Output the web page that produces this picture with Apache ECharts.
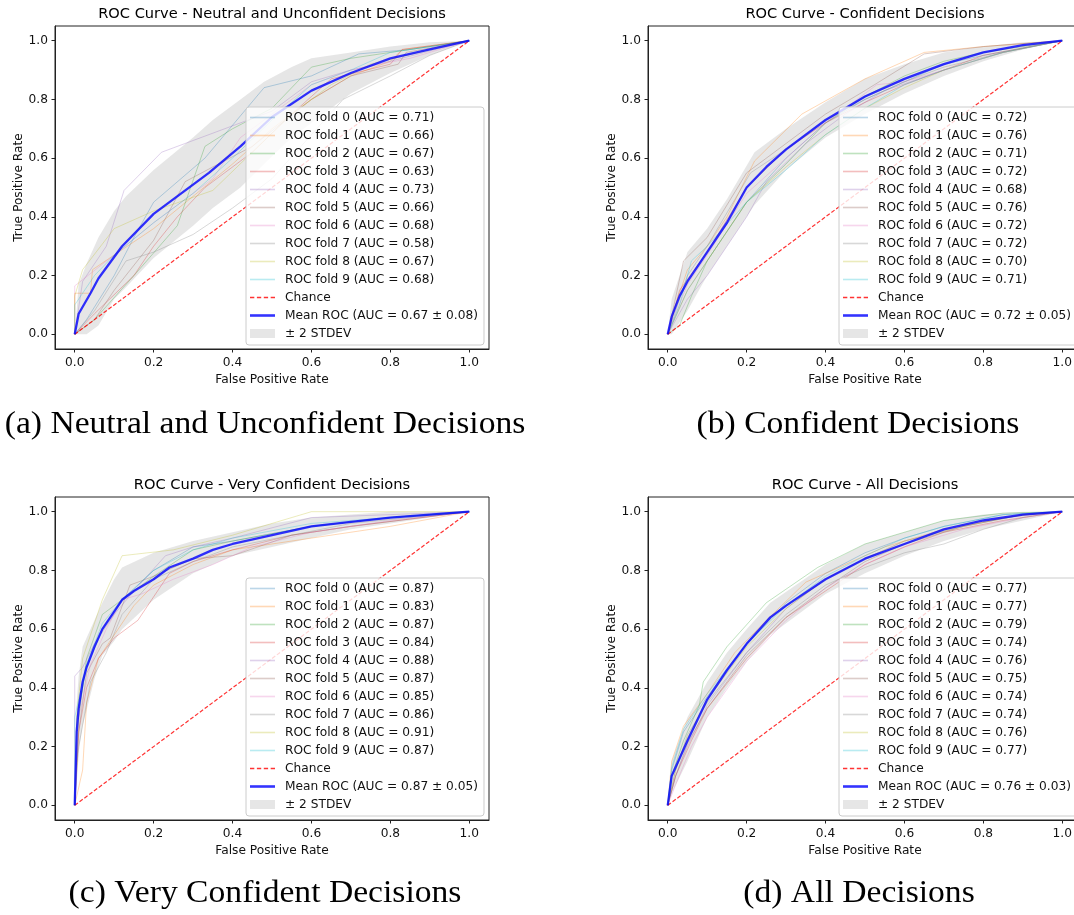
<!DOCTYPE html>
<html>
<head>
<meta charset="utf-8">
<script src="https://cdn.jsdelivr.net/npm/echarts@6/dist/echarts.min.js"></script>
<style>
html, body { margin: 0; padding: 0; background: #fff; }
#chart { width: 1074px; height: 915px; }
</style>
</head>
<body>
<div id="chart"></div>
<script>
// 各折颜色 (matplotlib tab10, alpha 0.3)
var foldColors = [
    'rgba(31,119,180,0.3)', 'rgba(255,127,14,0.3)', 'rgba(44,160,44,0.3)', 'rgba(214,39,40,0.3)',
    'rgba(148,103,189,0.3)', 'rgba(140,86,75,0.3)', 'rgba(227,119,194,0.3)', 'rgba(127,127,127,0.3)',
    'rgba(188,189,34,0.3)', 'rgba(23,190,207,0.3)'
];
var tickValues = [0, 0.2, 0.4, 0.6, 0.8, 1.0];
var chanceLine = [[0, 0], [1, 1]];

// (a) Neutral and Unconfident
var neutralTitle = 'ROC Curve - Neutral and Unconfident Decisions';
var neutralCaption = '(a) Neutral and Unconfident Decisions';
var neutralFoldAuc = ['0.71', '0.66', '0.67', '0.63', '0.73', '0.66', '0.68', '0.58', '0.67', '0.68'];
var neutralMeanAuc = '0.67 ± 0.08';
var neutralFolds = [
    [[0,0],[0.03,0.05],[0.1,0.2],[0.15,0.33],[0.2,0.45],[0.33,0.6],[0.48,0.84],[0.6,0.88],[0.72,0.955],[0.85,0.97],[1,1]],
    [[0,0],[0,0.14],[0.04,0.14],[0.045,0.22],[0.1,0.27],[0.2,0.36],[0.3,0.47],[0.4,0.58],[0.5,0.7],[0.6,0.8],[0.7,0.88],[0.8,0.93],[0.83,0.97],[1,1]],
    [[0,0],[0.05,0.05],[0.15,0.2],[0.26,0.37],[0.33,0.64],[0.4,0.7],[0.5,0.77],[0.6,0.91],[0.7,0.94],[0.8,0.96],[1,1]],
    [[0,0],[0.05,0.07],[0.15,0.2],[0.2,0.3],[0.26,0.4],[0.33,0.5],[0.45,0.62],[0.55,0.75],[0.65,0.87],[0.8,0.92],[0.83,0.97],[1,1]],
    [[0,0],[0.02,0.18],[0.08,0.3],[0.125,0.49],[0.22,0.62],[0.38,0.7],[0.5,0.76],[0.6,0.86],[0.7,0.9],[0.8,0.93],[1,1]],
    [[0,0],[0.05,0.05],[0.1,0.15],[0.2,0.32],[0.28,0.52],[0.35,0.57],[0.45,0.64],[0.6,0.8],[0.7,0.88],[0.82,0.92],[0.84,0.96],[1,1]],
    [[0,0],[0,0.165],[0.1,0.27],[0.2,0.38],[0.35,0.53],[0.42,0.67],[0.5,0.75],[0.6,0.85],[0.7,0.9],[0.85,0.94],[1,1]],
    [[0,0],[0.05,0.08],[0.13,0.25],[0.2,0.28],[0.3,0.34],[0.4,0.43],[0.5,0.53],[0.6,0.68],[0.68,0.8],[0.8,0.88],[0.9,0.95],[1,1]],
    [[0,0],[0,0.13],[0.02,0.22],[0.1,0.36],[0.2,0.42],[0.35,0.49],[0.45,0.62],[0.55,0.75],[0.65,0.85],[0.75,0.92],[0.9,0.97],[1,1]],
    [[0,0],[0,0.1],[0.05,0.2],[0.1,0.27],[0.2,0.38],[0.3,0.48],[0.4,0.6],[0.5,0.73],[0.6,0.85],[0.7,0.9],[0.8,0.96],[1,1]]
];
var neutralMean = [[0,0],[0.01,0.07],[0.04,0.14],[0.06,0.19],[0.12,0.3],[0.2,0.41],[0.27,0.48],[0.34,0.55],[0.42,0.64],[0.5,0.74],[0.6,0.83],[0.7,0.89],[0.8,0.94],[0.9,0.97],[1,1]];
var neutralBandX  = [0, 0.01, 0.03, 0.06, 0.1, 0.13, 0.2, 0.3, 0.35, 0.42, 0.48, 0.55, 0.6, 0.7, 0.8, 0.9, 1];
var neutralBandHi = [0, 0.17, 0.24, 0.33, 0.42, 0.47, 0.56, 0.67, 0.73, 0.8, 0.86, 0.91, 0.94, 0.96, 0.98, 0.995, 1];
var neutralBandLo = [0, 0, 0, 0.03, 0.12, 0.16, 0.26, 0.37, 0.43, 0.5, 0.58, 0.67, 0.72, 0.82, 0.89, 0.95, 1];

// (b) Confident
var confidentTitle = 'ROC Curve - Confident Decisions';
var confidentCaption = '(b) Confident Decisions';
var confidentFoldAuc = ['0.72', '0.76', '0.71', '0.72', '0.68', '0.76', '0.72', '0.72', '0.70', '0.71'];
var confidentMeanAuc = '0.72 ± 0.05';
var confidentFolds = [
    [[0,0],[0.05,0.15],[0.1,0.25],[0.2,0.45],[0.3,0.6],[0.4,0.72],[0.5,0.8],[0.6,0.86],[0.7,0.92],[0.8,0.95],[1,1]],
    [[0,0],[0.02,0.1],[0.05,0.22],[0.1,0.3],[0.15,0.4],[0.22,0.59],[0.34,0.75],[0.5,0.87],[0.65,0.96],[0.8,0.98],[1,1]],
    [[0,0],[0.03,0.03],[0.06,0.13],[0.1,0.25],[0.2,0.45],[0.3,0.58],[0.4,0.72],[0.5,0.81],[0.6,0.88],[0.7,0.93],[0.8,0.96],[1,1]],
    [[0,0],[0.03,0.15],[0.1,0.28],[0.2,0.5],[0.3,0.63],[0.4,0.72],[0.5,0.79],[0.6,0.85],[0.7,0.9],[0.8,0.95],[1,1]],
    [[0,0],[0.05,0.12],[0.1,0.2],[0.15,0.3],[0.2,0.4],[0.25,0.52],[0.35,0.65],[0.45,0.75],[0.55,0.83],[0.7,0.9],[0.85,0.96],[1,1]],
    [[0,0],[0.04,0.25],[0.1,0.33],[0.2,0.55],[0.3,0.65],[0.4,0.75],[0.5,0.83],[0.65,0.955],[0.8,0.98],[1,1]],
    [[0,0],[0.05,0.17],[0.1,0.27],[0.2,0.48],[0.3,0.6],[0.4,0.72],[0.53,0.85],[0.6,0.86],[0.7,0.9],[0.85,0.96],[1,1]],
    [[0,0],[0.05,0.2],[0.1,0.3],[0.21,0.55],[0.3,0.63],[0.4,0.73],[0.5,0.8],[0.6,0.86],[0.7,0.91],[0.85,0.96],[1,1]],
    [[0,0],[0.05,0.15],[0.1,0.25],[0.2,0.45],[0.3,0.57],[0.4,0.68],[0.5,0.77],[0.6,0.84],[0.7,0.9],[0.85,0.96],[1,1]],
    [[0,0],[0.03,0.1],[0.06,0.25],[0.1,0.3],[0.2,0.45],[0.3,0.56],[0.4,0.68],[0.5,0.77],[0.6,0.85],[0.7,0.9],[0.85,0.96],[1,1]]
];
var confidentMean = [[0,0],[0.01,0.06],[0.03,0.13],[0.05,0.18],[0.08,0.24],[0.1,0.28],[0.15,0.38],[0.2,0.5],[0.25,0.57],[0.3,0.63],[0.4,0.73],[0.5,0.81],[0.6,0.87],[0.7,0.92],[0.8,0.96],[0.9,0.985],[1,1]];
var confidentBandX  = [0, 0.01, 0.05, 0.1, 0.15, 0.22, 0.3, 0.4, 0.5, 0.6, 0.7, 0.8, 0.9, 1];
var confidentBandHi = [0, 0.12, 0.28, 0.36, 0.46, 0.62, 0.7, 0.79, 0.87, 0.92, 0.96, 0.98, 0.995, 1];
var confidentBandLo = [0, 0, 0.08, 0.2, 0.3, 0.44, 0.56, 0.67, 0.75, 0.82, 0.88, 0.93, 0.97, 1];

// (c) Very Confident
var veryTitle = 'ROC Curve - Very Confident Decisions';
var veryCaption = '(c) Very Confident Decisions';
var veryFoldAuc = ['0.87', '0.83', '0.87', '0.84', '0.88', '0.87', '0.85', '0.86', '0.91', '0.87'];
var veryMeanAuc = '0.87 ± 0.05';
var veryFolds = [
    [[0,0],[0.005,0.3],[0.03,0.47],[0.07,0.6],[0.12,0.7],[0.2,0.8],[0.3,0.88],[0.4,0.9],[0.6,0.95],[0.8,0.98],[1,1]],
    [[0,0],[0.02,0.12],[0.03,0.35],[0.06,0.5],[0.1,0.58],[0.15,0.68],[0.2,0.75],[0.3,0.82],[0.4,0.87],[0.6,0.91],[0.8,0.95],[1,1]],
    [[0,0],[0.01,0.3],[0.03,0.5],[0.07,0.65],[0.12,0.7],[0.2,0.78],[0.3,0.87],[0.4,0.9],[0.6,0.95],[0.8,0.98],[1,1]],
    [[0,0],[0.01,0.25],[0.03,0.4],[0.06,0.5],[0.1,0.57],[0.16,0.63],[0.24,0.79],[0.3,0.83],[0.4,0.87],[0.55,0.92],[0.7,0.95],[1,1]],
    [[0,0],[0,0.44],[0.02,0.47],[0.05,0.55],[0.1,0.65],[0.15,0.73],[0.23,0.85],[0.3,0.88],[0.4,0.91],[0.6,0.98],[0.8,0.99],[1,1]],
    [[0,0],[0.01,0.25],[0.03,0.45],[0.07,0.55],[0.09,0.57],[0.14,0.75],[0.2,0.78],[0.3,0.84],[0.4,0.85],[0.55,0.92],[0.7,0.95],[1,1]],
    [[0,0],[0.01,0.3],[0.04,0.48],[0.08,0.6],[0.12,0.7],[0.17,0.72],[0.25,0.77],[0.35,0.82],[0.45,0.88],[0.6,0.93],[0.8,0.97],[1,1]],
    [[0,0],[0.01,0.2],[0.04,0.42],[0.08,0.52],[0.12,0.65],[0.2,0.77],[0.3,0.83],[0.4,0.88],[0.55,0.92],[0.7,0.96],[1,1]],
    [[0,0],[0.005,0.3],[0.02,0.5],[0.07,0.7],[0.12,0.85],[0.25,0.87],[0.4,0.92],[0.5,0.96],[0.6,1],[1,1]],
    [[0,0],[0,0.3],[0.03,0.48],[0.07,0.62],[0.12,0.7],[0.2,0.8],[0.3,0.87],[0.4,0.91],[0.6,0.96],[0.8,0.98],[1,1]]
];
var veryMean = [[0,0],[0.005,0.25],[0.01,0.33],[0.02,0.42],[0.03,0.47],[0.05,0.54],[0.07,0.6],[0.1,0.66],[0.12,0.7],[0.15,0.73],[0.2,0.77],[0.24,0.81],[0.3,0.84],[0.35,0.87],[0.4,0.89],[0.5,0.92],[0.6,0.95],[0.7,0.965],[0.8,0.98],[0.9,0.99],[1,1]];
var veryBandX  = [0, 0.005, 0.01, 0.02, 0.05, 0.07, 0.1, 0.12, 0.2, 0.3, 0.4, 0.5, 0.6, 0.7, 0.8, 0.9, 1];
var veryBandHi = [0, 0.35, 0.44, 0.54, 0.63, 0.69, 0.77, 0.81, 0.86, 0.9, 0.93, 0.96, 0.98, 0.99, 1, 1, 1];
var veryBandLo = [0, 0.12, 0.18, 0.27, 0.43, 0.51, 0.56, 0.6, 0.7, 0.79, 0.85, 0.88, 0.91, 0.94, 0.96, 0.98, 1];

// (d) All
var allTitle = 'ROC Curve - All Decisions';
var allCaption = '(d) All Decisions';
var allFoldAuc = ['0.77', '0.77', '0.79', '0.74', '0.76', '0.75', '0.74', '0.74', '0.76', '0.77'];
var allMeanAuc = '0.76 ± 0.03';
var allFolds = [
    [[0,0],[0.01,0.12],[0.04,0.25],[0.1,0.37],[0.2,0.55],[0.3,0.69],[0.4,0.79],[0.5,0.86],[0.6,0.91],[0.7,0.95],[0.85,0.99],[1,1]],
    [[0,0],[0.01,0.15],[0.04,0.27],[0.1,0.38],[0.17,0.52],[0.25,0.63],[0.35,0.76],[0.45,0.82],[0.55,0.88],[0.7,0.94],[0.85,0.98],[1,1]],
    [[0,0],[0.01,0.1],[0.04,0.22],[0.08,0.34],[0.09,0.42],[0.15,0.54],[0.25,0.69],[0.38,0.81],[0.5,0.89],[0.7,0.97],[0.85,0.995],[1,1]],
    [[0,0],[0.02,0.1],[0.06,0.22],[0.1,0.33],[0.2,0.5],[0.3,0.64],[0.4,0.73],[0.5,0.82],[0.6,0.88],[0.7,0.93],[0.85,0.97],[1,1]],
    [[0,0],[0.02,0.1],[0.05,0.2],[0.1,0.34],[0.2,0.52],[0.3,0.67],[0.4,0.77],[0.5,0.84],[0.6,0.9],[0.75,0.95],[0.9,0.99],[1,1]],
    [[0,0],[0.02,0.1],[0.05,0.21],[0.1,0.33],[0.2,0.51],[0.3,0.64],[0.4,0.74],[0.5,0.83],[0.6,0.89],[0.75,0.95],[0.9,0.99],[1,1]],
    [[0,0],[0.02,0.07],[0.06,0.2],[0.1,0.3],[0.2,0.49],[0.3,0.63],[0.4,0.74],[0.5,0.82],[0.6,0.88],[0.75,0.94],[0.9,0.98],[1,1]],
    [[0,0],[0.02,0.12],[0.05,0.24],[0.1,0.35],[0.2,0.52],[0.3,0.65],[0.4,0.75],[0.5,0.81],[0.6,0.86],[0.7,0.89],[0.8,0.94],[0.9,0.98],[1,1]],
    [[0,0],[0.02,0.12],[0.05,0.23],[0.1,0.36],[0.2,0.54],[0.3,0.67],[0.4,0.77],[0.5,0.84],[0.6,0.9],[0.75,0.95],[0.9,0.99],[1,1]],
    [[0,0],[0.01,0.13],[0.04,0.26],[0.1,0.38],[0.2,0.55],[0.3,0.68],[0.4,0.78],[0.5,0.85],[0.6,0.91],[0.7,0.95],[0.85,0.99],[1,1]]
];
var allMean = [[0,0],[0.01,0.1],[0.05,0.22],[0.1,0.36],[0.15,0.46],[0.2,0.55],[0.26,0.64],[0.3,0.68],[0.4,0.77],[0.5,0.84],[0.6,0.89],[0.7,0.94],[0.8,0.97],[0.9,0.99],[1,1]];
var allBandX  = [0, 0.01, 0.05, 0.1, 0.15, 0.2, 0.26, 0.4, 0.5, 0.6, 0.7, 0.8, 0.9, 1];
var allBandHi = [0, 0.15, 0.3, 0.42, 0.52, 0.6, 0.69, 0.82, 0.89, 0.93, 0.97, 0.99, 1, 1];
var allBandLo = [0, 0.04, 0.15, 0.3, 0.4, 0.49, 0.58, 0.72, 0.79, 0.85, 0.9, 0.94, 0.97, 1];

// 子图布局 (像素)
var panels = [
    { left: 55,  top: 26,  title: neutralTitle,   caption: neutralCaption,   captionX: 265, captionY: 425, foldAuc: neutralFoldAuc,   meanAuc: neutralMeanAuc,   folds: neutralFolds,   mean: neutralMean,   bandX: neutralBandX,   bandLo: neutralBandLo,   bandHi: neutralBandHi },
    { left: 648, top: 26,  title: confidentTitle, caption: confidentCaption, captionX: 858, captionY: 425, foldAuc: confidentFoldAuc, meanAuc: confidentMeanAuc, folds: confidentFolds, mean: confidentMean, bandX: confidentBandX, bandLo: confidentBandLo, bandHi: confidentBandHi },
    { left: 55,  top: 497, title: veryTitle,      caption: veryCaption,      captionX: 265, captionY: 894, foldAuc: veryFoldAuc,      meanAuc: veryMeanAuc,      folds: veryFolds,      mean: veryMean,      bandX: veryBandX,      bandLo: veryBandLo,      bandHi: veryBandHi },
    { left: 648, top: 497, title: allTitle,       caption: allCaption,       captionX: 859, captionY: 894, foldAuc: allFoldAuc,       meanAuc: allMeanAuc,       folds: allFolds,       mean: allMean,       bandX: allBandX,       bandLo: allBandLo,       bandHi: allBandHi }
];
var gridW = 434, gridH = 323;
var sansFont = 'DejaVu Sans';
var axisColor = '#222';
var bandColor = 'rgba(128,128,128,0.2)';

// 图例图标 (不带圆点)
var foldIcon = 'path://M0,0h25v1.6h-25z';
var meanIcon = 'path://M0,0h25v2.6h-25z';
var chanceIcon = 'path://M0,0h4v1.3h-4z M6.4,0h4v1.3h-4z M12.8,0h4v1.3h-4z M19.2,0h4v1.3h-4z';
var bandIcon = 'path://M0,0h25v9h-25z';

var grids = [], xAxes = [], yAxes = [], series = [], legends = [], graphics = [];

function makeAxis(idx, name, isX) {
    var axis = {
        gridIndex: idx,
        type: 'value',
        min: -0.05,
        max: 1.05,
        name: name,
        nameLocation: 'middle',
        nameGap: isX ? 25 : 30,
        nameMoveOverlap: false,
        nameTextStyle: { fontFamily: sansFont, fontSize: 12.2, color: '#111' },
        splitLine: { show: false },
        axisLine: { show: true, onZero: false, lineStyle: { color: axisColor, width: 1 } },
        axisTick: { show: true, inside: false, length: 3.5, customValues: tickValues, lineStyle: { color: axisColor } },
        axisLabel: {
            customValues: tickValues,
            margin: isX ? 8 : 7,
            fontFamily: sansFont,
            fontSize: 12.2,
            color: '#111',
            formatter: function (v) { return v.toFixed(1); }
        }
    };
    return axis;
}

panels.forEach(function (p, idx) {
    grids.push({
        left: p.left, top: p.top, width: gridW, height: gridH,
        show: true, borderColor: axisColor, borderWidth: 1, backgroundColor: 'transparent',
        containLabel: false, outerBoundsMode: 'none'
    });
    xAxes.push(makeAxis(idx, 'False Positive Rate', true));
    yAxes.push(makeAxis(idx, 'True Positive Rate', false));

    var legendData = [];
    p.folds.forEach(function (pts, k) {
        var name = 'ROC fold ' + k + ' (AUC = ' + p.foldAuc[k] + ')';
        legendData.push({ name: name, icon: foldIcon });
        series.push({
            type: 'line', name: name, xAxisIndex: idx, yAxisIndex: idx,
            data: pts, symbol: 'none', silent: true, animation: false,
            lineStyle: { color: foldColors[k], width: 1 },
            itemStyle: { color: foldColors[k] }
        });
    });

    legendData.push({ name: 'Chance', icon: chanceIcon });
    series.push({
        type: 'line', name: 'Chance', xAxisIndex: idx, yAxisIndex: idx,
        data: chanceLine, symbol: 'none', silent: true, animation: false,
        lineStyle: { color: 'rgba(255,0,0,0.8)', width: 1.2, type: [4, 2] },
        itemStyle: { color: 'rgba(255,0,0,0.8)' }
    });

    var meanName = 'Mean ROC (AUC = ' + p.meanAuc + ')';
    legendData.push({ name: meanName, icon: meanIcon });
    series.push({
        type: 'line', name: meanName, xAxisIndex: idx, yAxisIndex: idx,
        data: p.mean, symbol: 'none', silent: true, animation: false,
        lineStyle: { color: 'rgba(0,0,255,0.8)', width: 2.3 },
        itemStyle: { color: 'rgba(0,0,255,0.8)' }
    });

    // ± 2 STDEV 阴影带, 用坐标系换算成多边形
    legendData.push({ name: '± 2 STDEV', icon: bandIcon });
    series.push({
        type: 'custom', name: '± 2 STDEV', xAxisIndex: idx, yAxisIndex: idx,
        coordinateSystem: 'cartesian2d', silent: true, animation: false,
        itemStyle: { color: bandColor },
        data: [[0, 0]],
        renderItem: function (params, api) {
            var pts = [];
            var i;
            for (i = 0; i < p.bandX.length; i++) {
                pts.push(api.coord([p.bandX[i], p.bandHi[i]]));
            }
            for (i = p.bandX.length - 1; i >= 0; i--) {
                pts.push(api.coord([p.bandX[i], p.bandLo[i]]));
            }
            return { type: 'polygon', shape: { points: pts }, style: { fill: bandColor } };
        }
    });

    legends.push({
        orient: 'vertical',
        left: p.left + 191,
        top: p.top + 81,
        data: legendData,
        selectedMode: false,
        itemWidth: 25,
        itemHeight: 10,
        itemGap: 5,
        padding: [4, 6, 5, 4],
        backgroundColor: 'rgba(255,255,255,0.8)',
        borderColor: '#cccccc',
        borderWidth: 1,
        borderRadius: 3,
        textStyle: { fontFamily: sansFont, fontSize: 12.2, color: '#111', lineHeight: 13, padding: [0, 0, 0, 5] }
    });

    graphics.push({
        type: 'text', x: p.left + gridW / 2, y: p.top - 12,
        style: { text: p.title, align: 'center', verticalAlign: 'middle', fontFamily: sansFont, fontSize: 14.6, fill: '#000' }
    });
    graphics.push({
        type: 'text', x: p.captionX, y: p.captionY, scaleX: 1.05,
        style: { text: p.caption, align: 'center', verticalAlign: 'middle', fontFamily: 'Liberation Serif', fontSize: 32, fill: '#000' }
    });
});

var chart = echarts.init(document.getElementById('chart'));
chart.setOption({
    backgroundColor: '#fff',
    animation: false,
    grid: grids,
    xAxis: xAxes,
    yAxis: yAxes,
    legend: legends,
    graphic: graphics,
    series: series
});
</script>
</body>
</html>
